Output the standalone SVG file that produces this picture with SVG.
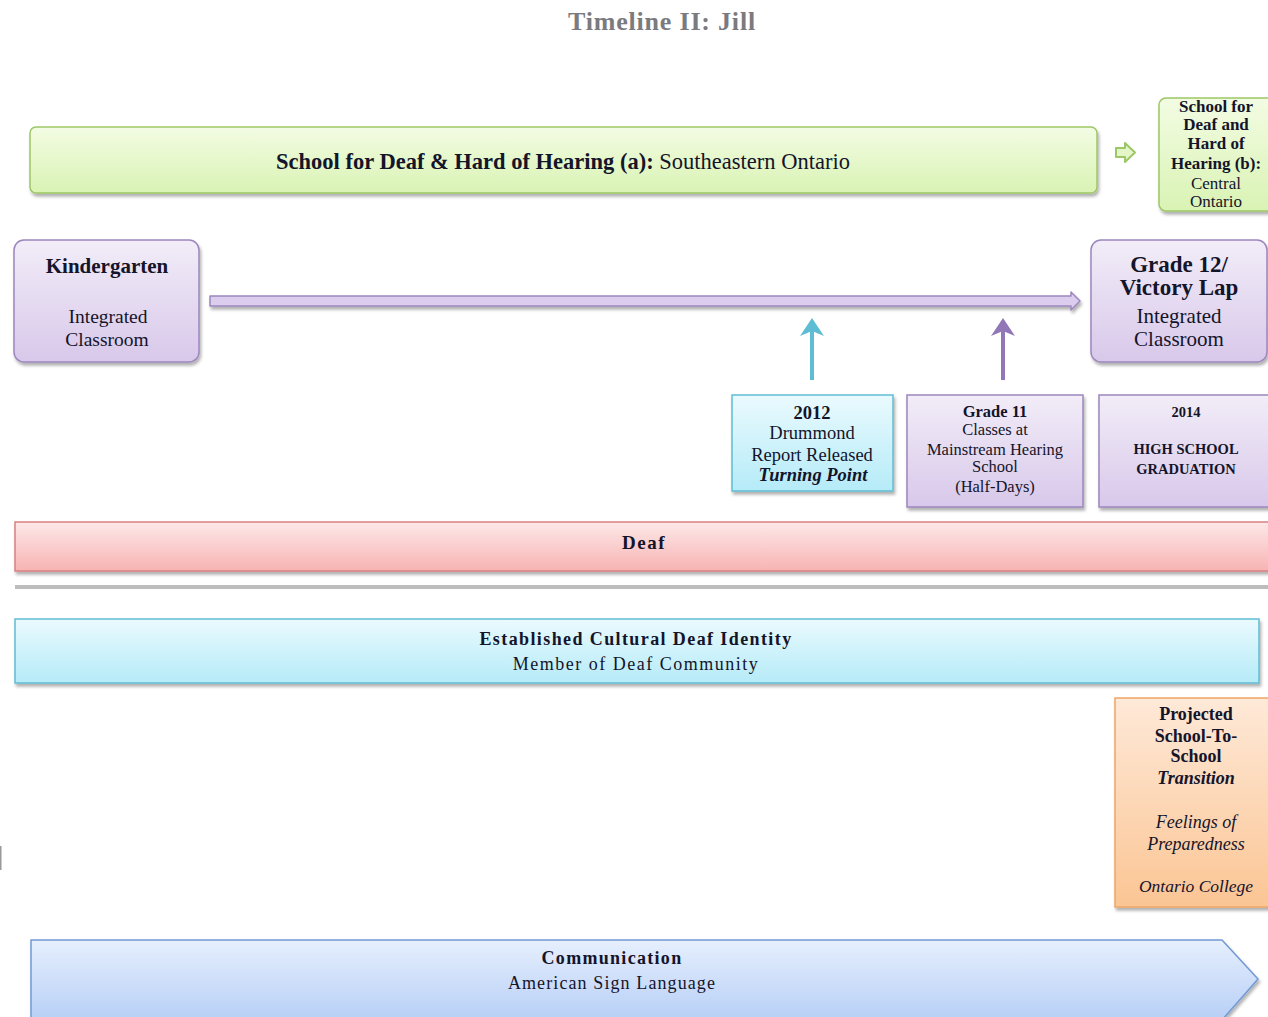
<svg xmlns="http://www.w3.org/2000/svg" width="1268" height="1017" viewBox="0 0 1268 1017">
  <defs>
    <linearGradient id="gGreen" x1="0" y1="0" x2="0" y2="1">
      <stop offset="0" stop-color="#f3fce3"/>
      <stop offset="1" stop-color="#d9f3b4"/>
    </linearGradient>
    <linearGradient id="gLav" x1="0" y1="0" x2="0" y2="1">
      <stop offset="0" stop-color="#f2edf8"/>
      <stop offset="1" stop-color="#d8c8ea"/>
    </linearGradient>
    <linearGradient id="gCyan" x1="0" y1="0" x2="0" y2="1">
      <stop offset="0" stop-color="#eafafe"/>
      <stop offset="1" stop-color="#b5ebf8"/>
    </linearGradient>
    <linearGradient id="gPink" x1="0" y1="0" x2="0" y2="1">
      <stop offset="0" stop-color="#fde8e8"/>
      <stop offset="1" stop-color="#f8b3b3"/>
    </linearGradient>
    <linearGradient id="gOrange" x1="0" y1="0" x2="0" y2="1">
      <stop offset="0" stop-color="#fee9d8"/>
      <stop offset="1" stop-color="#fbc594"/>
    </linearGradient>
    <linearGradient id="gBlue" x1="0" y1="0" x2="0" y2="1">
      <stop offset="0" stop-color="#e6effd"/>
      <stop offset="1" stop-color="#b7cff6"/>
    </linearGradient>
    <filter id="shadow" x="-5%" y="-20%" width="110%" height="150%">
      <feDropShadow dx="1.5" dy="3" stdDeviation="1.6" flood-color="#000" flood-opacity="0.3"/>
    </filter>
  </defs>
  <style>
    text { font-family: "Liberation Serif", "Times New Roman", serif; fill: #14142a; text-anchor: middle; }
    .b { font-weight: bold; }
    .bi { font-weight: bold; font-style: italic; }
    .i { font-style: italic; }
    .green { fill: url(#gGreen); stroke: #9cc766; stroke-width: 1.5; filter: url(#shadow); }
    .lav { fill: url(#gLav); stroke: #9c86bd; stroke-width: 1.5; filter: url(#shadow); }
    .cyan { fill: url(#gCyan); stroke: #5fbdd3; stroke-width: 1.5; filter: url(#shadow); }
    .pink { fill: url(#gPink); stroke: #d98080; stroke-width: 1.5; filter: url(#shadow); }
    .orange { fill: url(#gOrange); stroke: #f0a465; stroke-width: 1.5; filter: url(#shadow); }
    .blue { fill: url(#gBlue); stroke: #7399d4; stroke-width: 1.5; filter: url(#shadow); }
  </style>

  <rect width="1268" height="1017" fill="#ffffff"/>

  <!-- title -->
  <text x="662" y="30" class="b" font-size="26" letter-spacing="0.8" style="fill:#7a7a80">Timeline II: Jill</text>

  <!-- school (a) band -->
  <g id="school-a">
    <rect class="green" x="30" y="127" width="1067" height="66" rx="6"/>
    <text x="563" y="169" font-size="22.5"><tspan class="b">School for Deaf &amp; Hard of Hearing (a):</tspan> Southeastern Ontario</text>
  </g>

  <!-- school (b) box -->
  <g id="school-b">
    <rect class="green" x="1159" y="98" width="116" height="113" rx="7"/>
    <text x="1216" y="112" font-size="17" class="b">School for</text>
    <text x="1216" y="130" font-size="17" class="b">Deaf and</text>
    <text x="1216" y="149" font-size="17" class="b">Hard of</text>
    <text x="1216" y="169" font-size="17" class="b">Hearing (b):</text>
    <text x="1216" y="189" font-size="17">Central</text>
    <text x="1216" y="207" font-size="17">Ontario</text>
  </g>

  <g id="kindergarten">
    <rect class="lav" x="14" y="240" width="185" height="122" rx="10"/>
    <text x="107" y="273" font-size="21" class="b">Kindergarten</text>
    <text x="108" y="323" font-size="19.5">Integrated</text>
    <text x="107" y="346" font-size="19.5">Classroom</text>
  </g>

  <g id="grade12">
    <rect class="lav" x="1091" y="240" width="176" height="122" rx="10"/>
    <text x="1179" y="272" font-size="23" class="b">Grade 12/</text>
    <text x="1179" y="295" font-size="23" class="b">Victory Lap</text>
    <text x="1179" y="323" font-size="21">Integrated</text>
    <text x="1179" y="346" font-size="21">Classroom</text>
  </g>

  <g id="report2012">
    <rect class="cyan" x="732" y="395" width="161" height="96"/>
    <text x="812" y="419" font-size="18.5" class="b">2012</text>
    <text x="812" y="439" font-size="18.5">Drummond</text>
    <text x="812" y="461" font-size="18.5">Report Released</text>
    <text x="813" y="481" font-size="18.5" class="bi">Turning Point</text>
  </g>

  <g id="grade11">
    <rect class="lav" x="907" y="395" width="176" height="112"/>
    <text x="995" y="417" font-size="16.5" class="b">Grade 11</text>
    <text x="995" y="435" font-size="16.5">Classes at</text>
    <text x="995" y="455" font-size="16.5">Mainstream Hearing</text>
    <text x="995" y="472" font-size="16.5">School</text>
    <text x="995" y="492" font-size="16.5">(Half-Days)</text>
  </g>

  <g id="graduation2014">
    <rect class="lav" x="1099" y="395" width="175" height="112"/>
    <text x="1186" y="417" font-size="14.5" class="b">2014</text>
    <text x="1186" y="454" font-size="14.5" class="b">HIGH SCHOOL</text>
    <text x="1186" y="474" font-size="14.5" class="b">GRADUATION</text>
  </g>

  <g id="deaf">
    <rect class="pink" x="15" y="522" width="1260" height="49"/>
    <text x="644" y="549" font-size="19" class="b" letter-spacing="1.5">Deaf</text>
  </g>

  <!-- divider rule -->
  <rect x="15" y="585" width="1253" height="4" fill="#bdbdbd"/>
  <rect x="0" y="846" width="1.5" height="24" fill="#9a9a9a"/>

  <g id="identity">
    <rect class="cyan" x="15" y="619" width="1244" height="64"/>
    <text x="636" y="645" font-size="18" class="b" letter-spacing="1.4">Established Cultural Deaf Identity</text>
    <text x="636" y="670" font-size="18" letter-spacing="1.5">Member of Deaf Community</text>
  </g>

  <g id="transition">
    <rect class="orange" x="1115" y="698" width="160" height="209"/>
    <text x="1196" y="720" font-size="18" class="b">Projected</text>
    <text x="1196" y="742" font-size="18" class="b">School-To-</text>
    <text x="1196" y="762" font-size="18" class="b">School</text>
    <text x="1196" y="784" font-size="18" class="bi">Transition</text>
    <text x="1196" y="828" font-size="18" class="i">Feelings of</text>
    <text x="1196" y="850" font-size="18" class="i">Preparedness</text>
    <text x="1196" y="892" font-size="17.5" class="i">Ontario College</text>
  </g>

  <g id="communication">
    <polygon class="blue" points="31,940 1222,940 1258,979 1222,1020 31,1020"/>
    <text x="612" y="964" font-size="18" class="b" letter-spacing="1.3">Communication</text>
    <text x="612" y="989" font-size="18" letter-spacing="1.1">American Sign Language</text>
  </g>

  <!-- connectors -->
  <g id="connectors">
    <!-- school (a) to school (b) -->
    <path d="M1116,148 H1125 V143 L1135,152.5 L1125,162 V157 H1116 Z" fill="#e4f6c8" stroke="#9cc766" stroke-width="2" stroke-linejoin="round"/>
    <!-- timeline from kindergarten to grade 12 -->
    <path d="M210,296 H1071 V292 L1080,301 L1071,310 V306 H210 Z" fill="#dccdef" stroke="#9c86bd" stroke-width="1.5" stroke-linejoin="round" filter="url(#shadow)"/>
    <!-- 2012 report into timeline -->
    <line x1="812" y1="380" x2="812" y2="330" stroke="#5fbdd3" stroke-width="4"/>
    <path d="M812,318 L824,336 L812,331 L800,336 Z" fill="#5fbdd3"/>
    <!-- grade 11 into timeline -->
    <line x1="1003" y1="380" x2="1003" y2="330" stroke="#9277b8" stroke-width="4"/>
    <path d="M1003,318 L1015,336 L1003,331 L991,336 Z" fill="#9277b8"/>
  </g>
</svg>
